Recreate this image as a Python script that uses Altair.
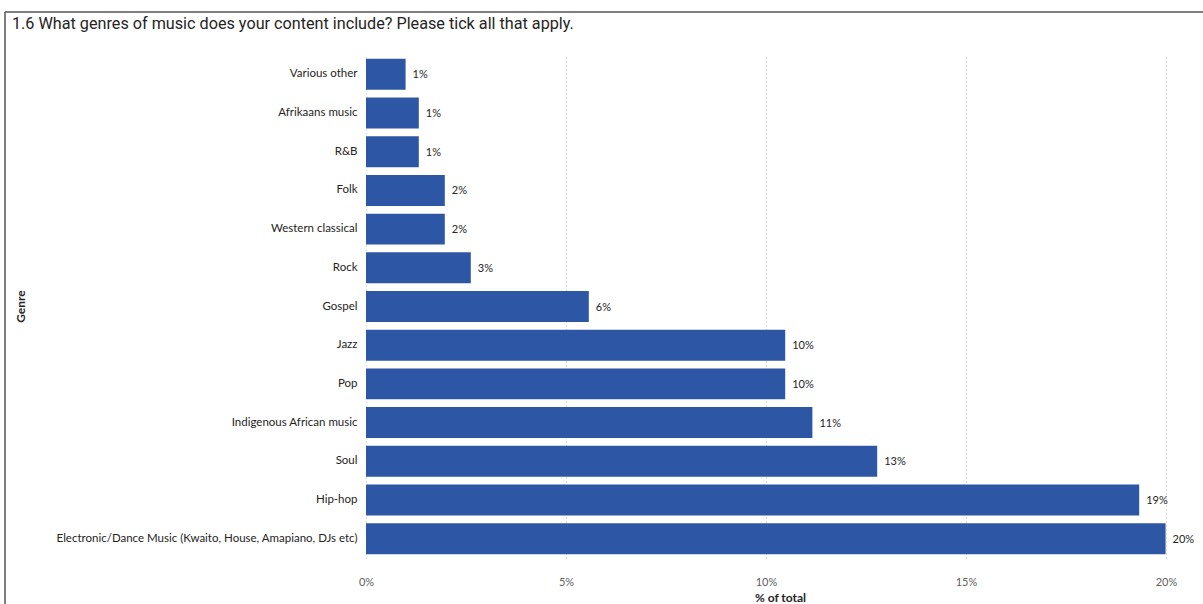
import altair as alt
import pandas as pd

genres = [
    "Various other",
    "Afrikaans music",
    "R&B",
    "Folk",
    "Western classical",
    "Rock",
    "Gospel",
    "Jazz",
    "Pop",
    "Indigenous African music",
    "Soul",
    "Hip-hop",
    "Electronic/Dance Music (Kwaito, House, Amapiano, DJs etc)",
]
pct = [0.99, 1.32, 1.32, 1.97, 1.97, 2.62, 5.57, 10.48, 10.48, 11.16, 12.78, 19.33, 19.99]

x_ticks = [0, 0.05, 0.10, 0.15, 0.20]

title_text = "1.6 What genres of music does your content include? Please tick all that apply."

df = pd.DataFrame({"Genre": genres, "pct": pct})

BAR = "#2D57A5"
TXT = "#252423"
LBL_FONT = "Segoe UI, Lato, sans-serif"

base = alt.Chart(df).transform_calculate(frac="datum.pct / 100")

bars = base.mark_bar(color=BAR).encode(
    y=alt.Y(
        "Genre:N",
        sort=genres,
        scale=alt.Scale(paddingInner=0.2, paddingOuter=0.1),
        axis=alt.Axis(
            title="Genre",
            titleAngle=270,
            titleX=-346,
            titleY=251,
            titleAlign="center",
            titleBaseline="middle",
            titleFont=LBL_FONT,
            titleFontSize=12,
            titleFontWeight="bold",
            titleColor=TXT,
            labelFont=LBL_FONT,
            labelFontSize=11.5,
            labelColor=TXT,
            labelPadding=9,
            labelLimit=400,
            ticks=False,
            domain=False,
            grid=False,
        ),
    ),
    x=alt.X(
        "frac:Q",
        scale=alt.Scale(domain=[0, 0.2], nice=False),
        axis=alt.Axis(
            title="% of total",
            titleFont=LBL_FONT,
            titleFontSize=12,
            titleFontWeight="bold",
            titleColor=TXT,
            titleX=414,
            titleY=43,
            titleBaseline="alphabetic",
            values=x_ticks,
            format=".0%",
            labelFont=LBL_FONT,
            labelFontSize=11,
            labelColor="#605E5C",
            labelPadding=18,
            labelFlush=False,
            ticks=False,
            domain=False,
            grid=True,
            gridColor="#C0C0C0",
            gridDash=[1, 3],
            gridWidth=1,
        ),
    ),
)

labels = base.mark_text(
    align="left", baseline="middle", dx=7, dy=1, font=LBL_FONT, fontSize=11, color=TXT
).encode(
    y=alt.Y("Genre:N", sort=genres),
    x=alt.X("frac:Q"),
    text=alt.Text("frac:Q", format=".0%"),
)

title_df = pd.DataFrame({"t": [title_text]})
title_mark = alt.Chart(title_df).mark_text(
    align="left",
    baseline="alphabetic",
    font="Roboto, DejaVu Sans",
    fontSize=16.2,
    color=TXT,
).encode(text="t:N", x=alt.value(-354), y=alt.value(-26))

border_df = pd.DataFrame({"k": ["top"]})
top_line = alt.Chart(border_df).mark_rule(color="#555555", strokeWidth=1.5).encode(
    x=alt.value(-361), x2=alt.value(837), y=alt.value(-43), y2=alt.value(-43)
)
left_line = alt.Chart(border_df).mark_rule(color="#555555", strokeWidth=1.5).encode(
    x=alt.value(-361), x2=alt.value(-361), y=alt.value(-43), y2=alt.value(560)
)

chart = (
    alt.layer(bars, labels, title_mark, top_line, left_line)
    .properties(
        width=800,
        height=503,
        padding={"left": 366, "top": 55, "right": 37, "bottom": 46},
        autosize=alt.AutoSizeParams(type="none"),
        view=alt.ViewBackground(stroke="transparent", strokeWidth=0),
    )
    .configure_view(stroke="transparent", strokeWidth=0)
    .configure_axis(domain=False)
    .configure(background="white")
)

chart.save("out.html", embed_options={"renderer": "svg", "actions": False})
